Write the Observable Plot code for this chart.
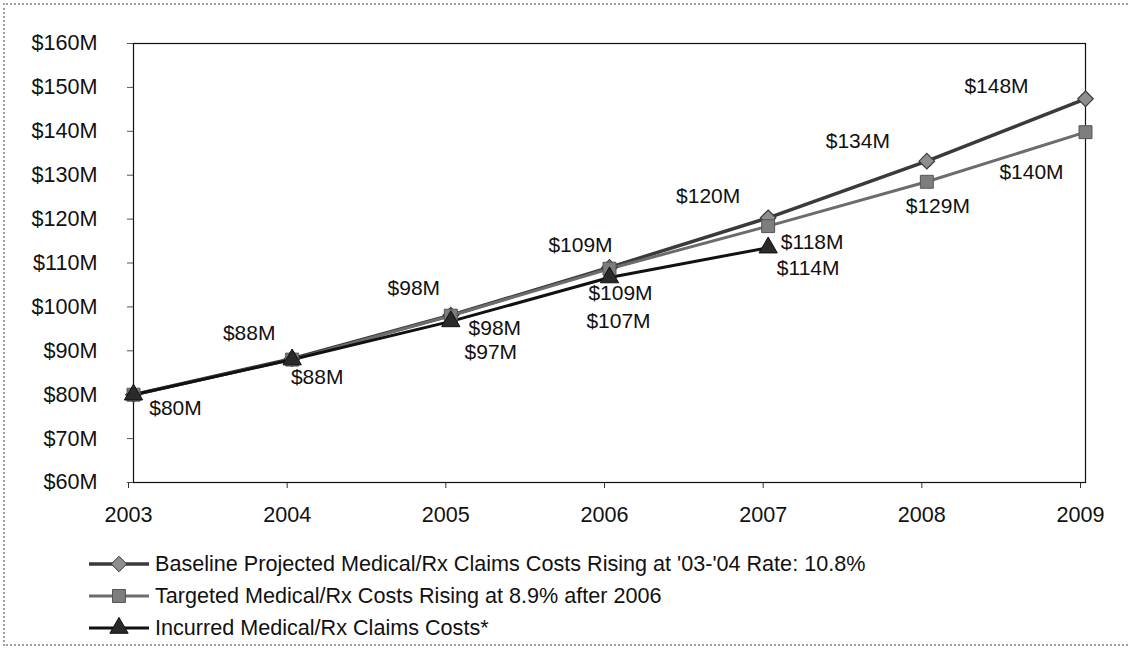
<!DOCTYPE html>
<html><head><meta charset="utf-8">
<script src="https://cdn.jsdelivr.net/npm/d3@7"></script>
<script src="https://cdn.jsdelivr.net/npm/@observablehq/plot@0.6"></script>
<style>
html,body{margin:0;padding:0;background:#fff;}
body{font-family:"Liberation Sans",Arial,sans-serif;}
#wrap{position:relative;width:1130px;height:649px;overflow:hidden;background:#fff;}
#frame{position:absolute;left:3px;top:3px;width:1160px;height:643px;border:2px dotted #a0a0a0;box-sizing:border-box;pointer-events:none;}
#chart{position:absolute;left:0;top:0;}
#legend{position:absolute;left:0;top:548px;}
.row{height:32px;display:flex;align-items:center;font-size:21.6px;color:#111;padding-left:89px;white-space:nowrap;}
.row svg{margin-right:6px;}
</style></head>
<body>
<div id="wrap"><div id="chart"></div><div id="legend"></div><div id="frame"></div></div>
<script>
// ---- data ----
const years = [2003, 2004, 2005, 2006, 2007, 2008, 2009];
const baselineValues = [80, 88.2, 98.1, 109, 120.3, 133.2, 147.4];
const targetedValues = [80, 88, 98, 108.7, 118.4, 128.5, 139.8];
const incurredYears = [2003, 2004, 2005, 2006, 2007];
const incurredValues = [80, 88, 96.7, 106.7, 113.5];

const baselineLabels = [null, "$88M", "$98M", "$109M", "$120M", "$134M", "$148M"];
const targetedLabels = [null, null, "$98M", "$109M", "$118M", "$129M", "$140M"];
const incurredLabels = ["$80M", "$88M", "$97M", "$107M", "$114M"];

const yTicks = [60, 70, 80, 90, 100, 110, 120, 130, 140, 150, 160];

const seriesNames = [
  "Baseline Projected Medical/Rx Claims Costs Rising at '03-'04 Rate: 10.8%",
  "Targeted Medical/Rx Costs Rising at 8.9% after 2006",
  "Incurred Medical/Rx Claims Costs*"
];

// ---- label placement offsets (pixels, styling only) ----
const baselineOffsets = [null, [-43, -25], [-37, -27], [-29, -22], [-60, -22], [-69, -20], [-89, -13]];
const targetedOffsets = [null, null, [44, 13], [11, 25], [44, 16], [11, 24], [-54, 40]];
const incurredOffsets = [[42, 14], [25, 18], [40, 31], [9, 44], [40, 21]];

// ---- build tables ----
const baseline = years.map((y, i) => ({year: y, value: baselineValues[i], label: baselineLabels[i], off: baselineOffsets[i]}));
const targeted = years.map((y, i) => ({year: y, value: targetedValues[i], label: targetedLabels[i], off: targetedOffsets[i]}));
const incurred = incurredYears.map((y, i) => ({year: y, value: incurredValues[i], label: incurredLabels[i], off: incurredOffsets[i]}));

const styles = [
  {line: "#3a3a3a", width: 3.5, symbol: "diamond2", r: 7, fill: "#8e8e8e", stroke: "#3a3a3a"},
  {line: "#6c6c6c", width: 3, symbol: "square", r: 7.3, fill: "#7d7d7d", stroke: "#555"},
  {line: "#111111", width: 3, symbol: "triangle", r: 6.8, fill: "#2a2a2a", stroke: "#111"}
];

const labelMarks = [];
for (const d of [...baseline, ...targeted, ...incurred]) {
  if (!d.label) continue;
  labelMarks.push(Plot.text([d], {x: "year", y: "value", text: "label", dx: d.off[0], dy: d.off[1],
    fontSize: 21, fill: "#111", textAnchor: "middle"}));
}

const chart = Plot.plot({
  width: 1130,
  height: 530,
  marginLeft: 133,
  marginRight: 45,
  marginTop: 43,
  marginBottom: 48,
  style: {fontFamily: "'Liberation Sans', Arial, sans-serif", fontSize: "21.6px", color: "#111", background: "transparent", overflow: "visible"},
  x: {domain: [2003, 2009]},
  y: {domain: [60, 160]},
  marks: [
    Plot.axisY({ticks: yTicks, tickFormat: d => `$${d}M`, tickSize: 6, tickPadding: 30, label: null, stroke: "#555", fill: "#111"}),
    Plot.axisX({ticks: years, tickFormat: d => String(d), tickSize: 6, tickPadding: 18, label: null, stroke: "#333", fill: "#111", dx: -5}),
    Plot.frame({stroke: "#111", strokeWidth: 1.2}),
    Plot.line(baseline, {x: "year", y: "value", stroke: styles[0].line, strokeWidth: styles[0].width}),
    Plot.line(targeted, {x: "year", y: "value", stroke: styles[1].line, strokeWidth: styles[1].width}),
    Plot.line(incurred, {x: "year", y: "value", stroke: styles[2].line, strokeWidth: styles[2].width}),
    Plot.dot(baseline, {x: "year", y: "value", symbol: styles[0].symbol, r: styles[0].r, fill: styles[0].fill, stroke: styles[0].stroke, strokeWidth: 1.2}),
    Plot.dot(targeted, {x: "year", y: "value", symbol: styles[1].symbol, r: styles[1].r, fill: styles[1].fill, stroke: styles[1].stroke, strokeWidth: 1}),
    Plot.dot(incurred, {x: "year", y: "value", symbol: styles[2].symbol, r: styles[2].r, fill: styles[2].fill, stroke: styles[2].stroke, strokeWidth: 1}),
    ...labelMarks
  ]
});
document.getElementById("chart").appendChild(chart);

// ---- legend ----
const legend = document.getElementById("legend");
seriesNames.forEach((name, i) => {
  const s = styles[i];
  const row = document.createElement("div");
  row.className = "row";
  const sym = d3.symbol().type({diamond2: d3.symbolDiamond2, square: d3.symbolSquare, triangle: d3.symbolTriangle}[s.symbol]).size(Math.PI * s.r * s.r)();
  row.innerHTML = `<svg width="60" height="32"><line x1="0" x2="60" y1="16" y2="16" stroke="${s.line}" stroke-width="${s.width}"/><path d="${sym}" transform="translate(30,16)" fill="${s.fill}" stroke="${s.stroke}"/></svg><span></span>`;
  row.querySelector("span").textContent = name;
  legend.appendChild(row);
});
</script>
</body></html>
